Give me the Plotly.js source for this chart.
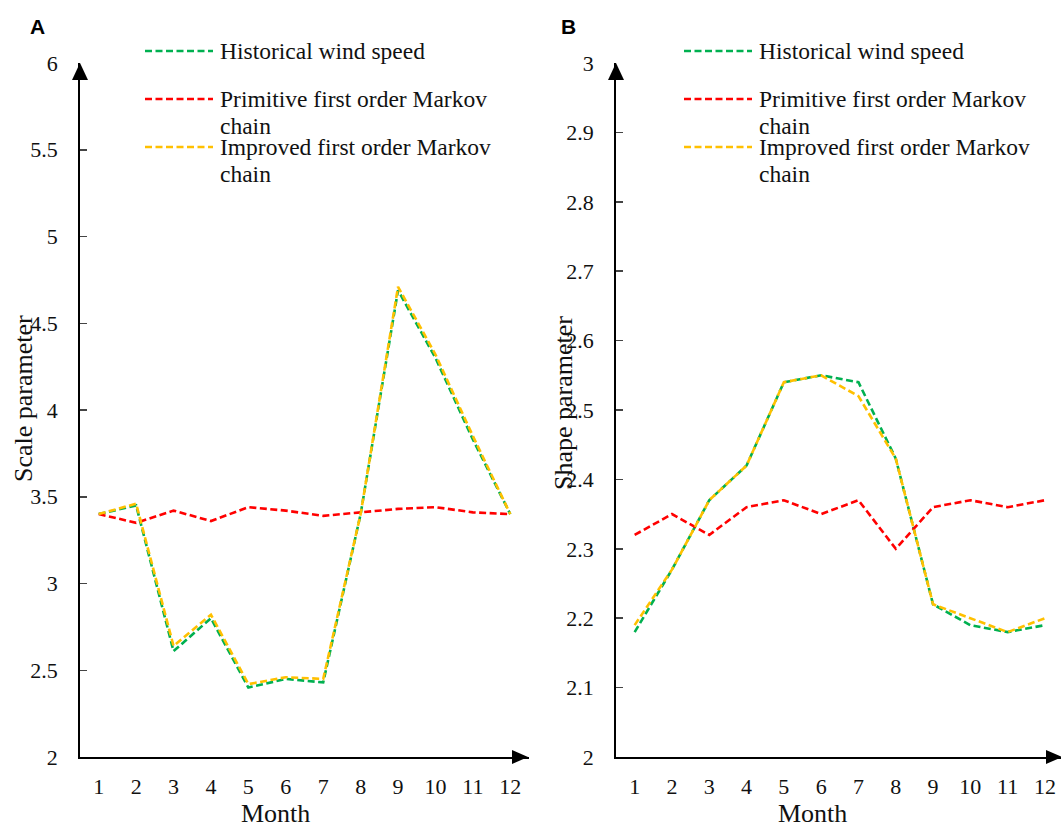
<!DOCTYPE html>
<html>
<head>
<meta charset="utf-8">
<script src="https://cdn.plot.ly/plotly-3.0.1.min.js"></script>
<style>
  html, body { margin: 0; padding: 0; background: #ffffff; }
  #chart { width: 1061px; height: 827px; }
</style>
</head>
<body>
<div id="chart"></div>
<script>
// ---------------- data ----------------
const months = [1, 2, 3, 4, 5, 6, 7, 8, 9, 10, 11, 12];
const monthLabels = ['1', '2', '3', '4', '5', '6', '7', '8', '9', '10', '11', '12'];

const seriesNames = [
  'Historical wind speed',
  'Primitive first order Markov<br>chain',
  'Improved first order Markov<br>chain'
];
const seriesColors = ['#00B050', '#FF0000', '#FFC000'];

// Panel A: Scale parameter
const scaleHistorical = [3.40, 3.45, 2.61, 2.80, 2.40, 2.45, 2.43, 3.40, 4.69, 4.30, 3.83, 3.40];
const scalePrimitive  = [3.40, 3.35, 3.42, 3.36, 3.44, 3.42, 3.39, 3.41, 3.43, 3.44, 3.41, 3.40];
const scaleImproved   = [3.40, 3.46, 2.64, 2.82, 2.42, 2.46, 2.45, 3.40, 4.71, 4.32, 3.85, 3.40];

// Panel B: Shape parameter
const shapeHistorical = [2.18, 2.27, 2.37, 2.42, 2.54, 2.55, 2.54, 2.43, 2.22, 2.19, 2.18, 2.19];
const shapePrimitive  = [2.32, 2.35, 2.32, 2.36, 2.37, 2.35, 2.37, 2.30, 2.36, 2.37, 2.36, 2.37];
const shapeImproved   = [2.19, 2.27, 2.37, 2.42, 2.54, 2.55, 2.52, 2.43, 2.22, 2.20, 2.18, 2.20];

const panelTitles = ['A', 'B'];
const yTitles = ['Scale parameter', 'Shape parameter'];
const xTitle = 'Month';

// ---------------- layout helpers ----------------
const W = 1061, H = 827;
const px = v => v / W;
const py = v => 1 - v / H;

const SERIF = "'Liberation Serif', 'Times New Roman', Times, serif";
const SANS = "'Liberation Sans', Arial, Helvetica, sans-serif";

function mkTrace(x, y, i, xa, ya) {
  return {
    x: x, y: y, type: 'scatter', mode: 'lines',
    name: seriesNames[i].replace('<br>', ' '),
    xaxis: xa, yaxis: ya, showlegend: false, hoverinfo: 'x+y',
    line: { color: seriesColors[i], width: 2.6, dash: '7px,3.5px' }
  };
}

// draw order: historical, primitive, improved (improved on top)
const traces = [
  mkTrace(months, scaleHistorical, 0, 'x', 'y'),
  mkTrace(months, scalePrimitive, 1, 'x', 'y'),
  mkTrace(months, scaleImproved, 2, 'x', 'y'),
  mkTrace(months, shapeHistorical, 0, 'x2', 'y2'),
  mkTrace(months, shapePrimitive, 1, 'x2', 'y2'),
  mkTrace(months, shapeImproved, 2, 'x2', 'y2')
];

const yTopPx = 63, yBotPx = 757;
const yDomain = [(H - yBotPx) / H, (H - yTopPx) / H];

function xAxis(domain, range, anchor) {
  return {
    domain: domain, range: range, anchor: anchor,
    tickmode: 'array', tickvals: months, ticktext: monthLabels,
    ticks: '', showgrid: false, zeroline: false,
    showline: true, linecolor: '#000000', linewidth: 1.8,
    tickfont: { family: SERIF, size: 22, color: '#111111' },
    ticklabelstandoff: 9, automargin: false, fixedrange: true
  };
}
function yAxis(range, dtick, anchor) {
  return {
    domain: yDomain, range: range, dtick: dtick, tick0: range[0], anchor: anchor,
    ticks: 'inside', ticklen: 7, tickwidth: 1.5, tickcolor: '#444444',
    showgrid: false, zeroline: false,
    showline: true, linecolor: '#000000', linewidth: 1.8,
    tickfont: { family: SERIF, size: 22, color: '#111111' },
    ticklabelstandoff: 16, automargin: false, fixedrange: true
  };
}

const layout = {
  width: W, height: H,
  font: { family: SERIF, color: '#111111' },
  margin: { l: 0, r: 0, t: 0, b: 0, pad: 0 },
  paper_bgcolor: '#ffffff', plot_bgcolor: '#ffffff',
  showlegend: false,
  xaxis: xAxis([px(80), px(529)], [0.5, 12.5], 'y'),
  yaxis: yAxis([2, 6], 0.5, 'x'),
  xaxis2: xAxis([px(616), 1], [0.5, 12.43], 'y2'),
  yaxis2: yAxis([2, 3], 0.1, 'x2'),
  shapes: [],
  annotations: []
};

// axis arrowheads (decoration at the axis ends, paper refs so they are not clipped)
function arrows(xLeftPx, xRightPx) {
  layout.shapes.push({
    type: 'path', xref: 'paper', yref: 'paper', xsizemode: 'pixel', ysizemode: 'pixel',
    xanchor: px(xLeftPx), yanchor: py(yTopPx), path: 'M-8,-17 L8,-17 L0,0 Z',
    fillcolor: '#000000', line: { width: 0 }
  });
  layout.shapes.push({
    type: 'path', xref: 'paper', yref: 'paper', xsizemode: 'pixel', ysizemode: 'pixel',
    xanchor: px(xRightPx), yanchor: py(yBotPx), path: 'M-16,7 L-16,-7 L0,0 Z',
    fillcolor: '#000000', line: { width: 0 }
  });
}
arrows(80, 528);
arrows(616, 1062);

// legends (drawn manually to mimic the original spacing; wrapped lines 27px apart)
const legendLeft = [145, 684];
const legendRowY = [51, 99, 147];
const legendLineGap = 27;
legendLeft.forEach(function (lx) {
  for (let i = 0; i < 3; i++) {
    layout.shapes.push({
      type: 'line', xref: 'paper', yref: 'paper',
      x0: px(lx), x1: px(lx + 68), y0: py(legendRowY[i]), y1: py(legendRowY[i]),
      line: { color: seriesColors[i], width: 2.6, dash: '7px,3.5px' }
    });
    seriesNames[i].split('<br>').forEach(function (part, j) {
      layout.annotations.push({
        xref: 'paper', yref: 'paper', x: px(lx + 74), y: py(legendRowY[i] + j * legendLineGap),
        xanchor: 'left', yanchor: 'middle', align: 'left', showarrow: false,
        text: part, borderpad: 0,
        font: { family: SERIF, size: 23.5, color: '#111111' }
      });
    });
  }
});

// panel letters
[[37, 26], [568, 26]].forEach(function (p, k) {
  layout.annotations.push({
    xref: 'paper', yref: 'paper', x: px(p[0]), y: py(p[1]),
    xanchor: 'center', yanchor: 'middle', showarrow: false,
    text: '<b>' + panelTitles[k] + '</b>',
    font: { family: SANS, size: 21, color: '#000000' }
  });
});

// axis titles
[[275, 813], [812, 813]].forEach(function (p) {
  layout.annotations.push({
    xref: 'paper', yref: 'paper', x: px(p[0]), y: py(p[1]),
    xanchor: 'center', yanchor: 'middle', showarrow: false, borderpad: 0,
    text: xTitle, font: { family: SERIF, size: 26, color: '#111111' }
  });
});
[[23, 399], [563, 403]].forEach(function (p, k) {
  layout.annotations.push({
    xref: 'paper', yref: 'paper', x: px(p[0]), y: py(p[1]),
    xanchor: 'center', yanchor: 'middle', showarrow: false, textangle: -90,
    text: yTitles[k], font: { family: SERIF, size: 26, color: '#111111' }
  });
});

Plotly.newPlot('chart', traces, layout, { displayModeBar: false, staticPlot: true });
</script>
</body>
</html>
